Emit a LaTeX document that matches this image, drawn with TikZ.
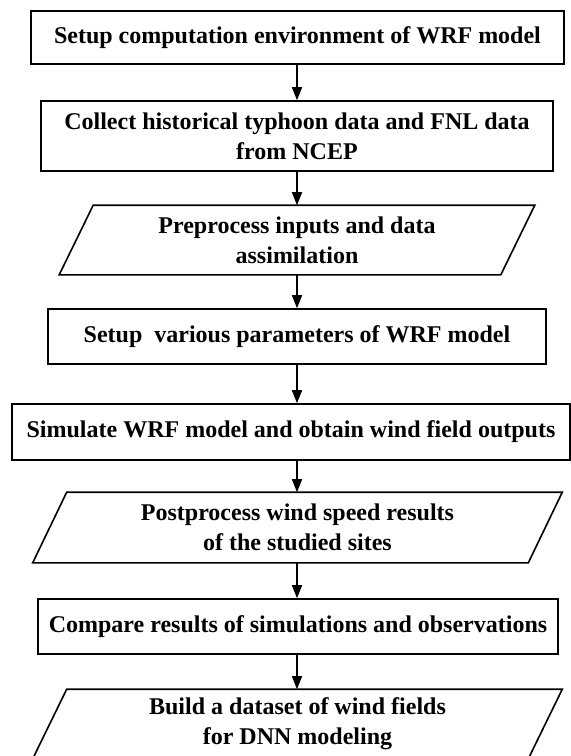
\documentclass[tikz,border=0pt]{standalone}
\usepackage{fontspec}
\setmainfont{Liberation Serif}
\usetikzlibrary{arrows.meta}

\begin{document}
\begin{tikzpicture}[x=0.5pt,y=-0.5pt,line width=0.8pt,>={Triangle[length=6.5pt,width=5pt]},
  font=\bfseries\fontsize{12}{15}\selectfont,
  proc/.style={draw,rectangle,align=center,inner sep=0pt},
  io/.style={rectangle,align=center,inner sep=0pt}]
\useasboundingbox (0,0) rectangle (571,756);
\node[proc,minimum width=266.5pt,minimum height=26.5pt] (s1) at (297.5,37.5) {Setup computation environment of WRF model};
\node[proc,minimum width=256pt,minimum height=35pt] (s2) at (297,136) {Collect historical typhoon data and FNL data\\from NCEP};
\node[io,minimum width=220pt,minimum height=34pt] (s3) at (297,240) {Preprocess inputs and data\\assimilation};
\node[proc,minimum width=249pt,minimum height=27.5pt] (s4) at (297,336.5) {Setup\ \ various parameters of WRF model};
\node[proc,minimum width=279pt,minimum height=28pt] (s5) at (291,432) {Simulate WRF model and obtain wind field outputs};
\node[io,minimum width=247pt,minimum height=34.5pt] (s6) at (297.5,527.5) {Postprocess wind speed results\\of the studied sites};
\node[proc,minimum width=260pt,minimum height=27.5pt] (s7) at (298,626.5) {Compare results of simulations and observations};
\node[io,minimum width=247pt,minimum height=34pt] (s8) at (297.5,724) {Build a dataset of wind fields\\for DNN modeling};
% slanted boxes
\foreach \n in {s3,s6,s8}{\draw ([xshift=8.5pt]\n.north west) -- ([xshift=8.5pt]\n.north east) -- ([xshift=-8.5pt]\n.south east) -- ([xshift=-8.5pt]\n.south west) -- cycle;};
\foreach \a/\b in {s1/s2,s2/s3,s3/s4,s4/s5,s5/s6,s6/s7,s7/s8}{\draw[->] (\a.south -| s3) -- (\b.north -| s3);};
\end{tikzpicture}
\end{document}
